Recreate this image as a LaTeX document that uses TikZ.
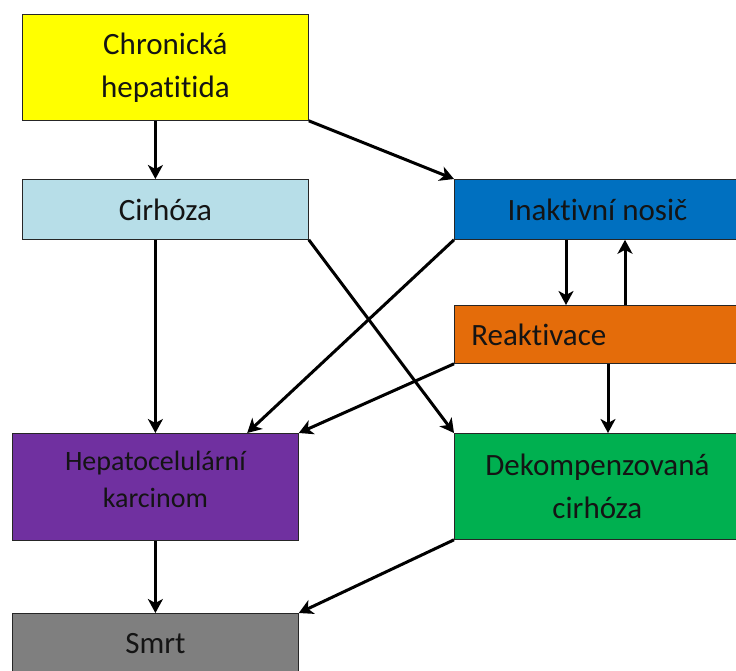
\documentclass[tikz,border=0pt]{standalone}
\usepackage{fontspec}
\setmainfont{Carlito}[Ligatures=NoCommon]
\usetikzlibrary{arrows.meta,calc}
\definecolor{cyel}{HTML}{FFFF00}
\definecolor{clbl}{HTML}{B7DEE8}
\definecolor{cblu}{HTML}{0070C0}
\definecolor{cora}{HTML}{E46C0A}
\definecolor{cpur}{HTML}{7030A0}
\definecolor{cgrn}{HTML}{00B050}
\definecolor{cgry}{HTML}{7F7F7F}
\definecolor{ctxt}{HTML}{141414}
\tikzset{
  box/.style={draw=black!85, line width=0.8pt, anchor=north west, inner sep=0pt,
    minimum width=286pt, text=ctxt, align=center,
    font=\fontsize{31}{43}\selectfont},
  arr/.style={line width=3pt, -{Stealth[length=14pt,width=15pt,inset=4pt]}}
}
\begin{document}
\begin{tikzpicture}[x=1pt,y=-1pt]
\useasboundingbox (0,0) rectangle (736,670);
\clip (0,0) rectangle (736,670);
\fill[white] (0,0) rectangle (736,670);
\node[box, fill=cyel, minimum height=106pt] (ch) at (22,14) {Chronická\\hepatitida};
\node[box, fill=clbl, minimum height=60pt] (cir) at (22,179) {Cirhóza};
\node[box, fill=cblu, minimum height=60pt] (in) at (454,179) {Inaktivní nosič};
\node[box, fill=cora, minimum height=58pt, text width=252pt, align=left, inner xsep=17pt] (rea) at (454,305) {Reaktivace};
\node[box, fill=cpur, minimum height=107pt, font=\fontsize{28}{37}\selectfont] (hcc) at (12,433) {Hepatocelulární\\karcinom\rule[-16pt]{0pt}{0pt}};
\node[box, fill=cgrn, minimum height=106pt] (dek) at (454,433) {Dekompenzovaná\\cirhóza};
\node[box, fill=cgry, minimum height=60pt] (smrt) at (12,613) {Smrt};
\coordinate (s1) at ($(in.south west)+(112,0)$);
\coordinate (s2) at ($(in.south west)+(171,0)$);
\coordinate (s3) at ($(rea.south west)+(154,0)$);
\coordinate (hcct) at ($(hcc.north west)!0.82!(hcc.north east)$);
\draw[arr] (ch.south -| hcc.north) -- (cir.north -| hcc.north);
\draw[arr] (ch.south east) -- (in.north west);
\draw[arr] (cir.south -| hcc.north) -- (hcc.north);
\draw[arr] (cir.south east) -- (dek.north west);
\draw[arr] (in.south west) -- (hcct);
\draw[arr] (s1) -- (s1 |- rea.north);
\draw[arr] (s2 |- rea.north) -- (s2);
\draw[arr] (rea.south west) -- (hcc.north east);
\draw[arr] (s3) -- (s3 |- dek.north);
\draw[arr] (hcc.south) -- (smrt.north);
\draw[arr] (dek.south west) -- (smrt.north east);
\end{tikzpicture}
\end{document}
